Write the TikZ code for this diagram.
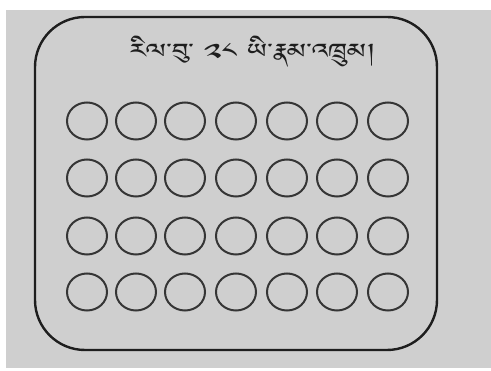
\documentclass[tikz,border=0pt]{standalone}
\usepackage{fontspec}
\usepackage{tikz}
\usetikzlibrary{positioning}
\usepackage{xcolor}
\definecolor{paper}{HTML}{CFCFCF}
\definecolor{inkdark}{HTML}{1E1E1E}
\IfFontExistsTF{Jomolhari}
  {\newfontfamily\tibfont[Script=Tibetan]{Jomolhari}}
  {\newfontfamily\tibfont{DejaVu Sans}}

\begin{document}
\begin{tikzpicture}[x=1pt, y=-1pt]
  \useasboundingbox (0,0) rectangle (491,371);
  \fill[white] (0,0) rectangle (491,371);
  \fill[paper] (6,10) rectangle (491,368);
  % outer frame
  \draw[inkdark, line width=2.4pt, rounded corners=50pt] (35,17) rectangle (437,350);
  \node[inkdark, xscale=1.35, transform shape, font=\tibfont\fontsize{26}{30}\selectfont]
    (title) at (253,52) {རིལ་བུ་ ༢༨ ཡི་རྣམ་འཁྲུམ།};
  % pills, 4 rows of 7
  \foreach \ry in {121,178,236,292}
    \foreach \cx in {87,136,185,236,287,337,388}
      \draw[inkdark!90, line width=2pt] (\cx,\ry) ellipse [x radius=20, y radius=18.5];
\end{tikzpicture}
\end{document}
